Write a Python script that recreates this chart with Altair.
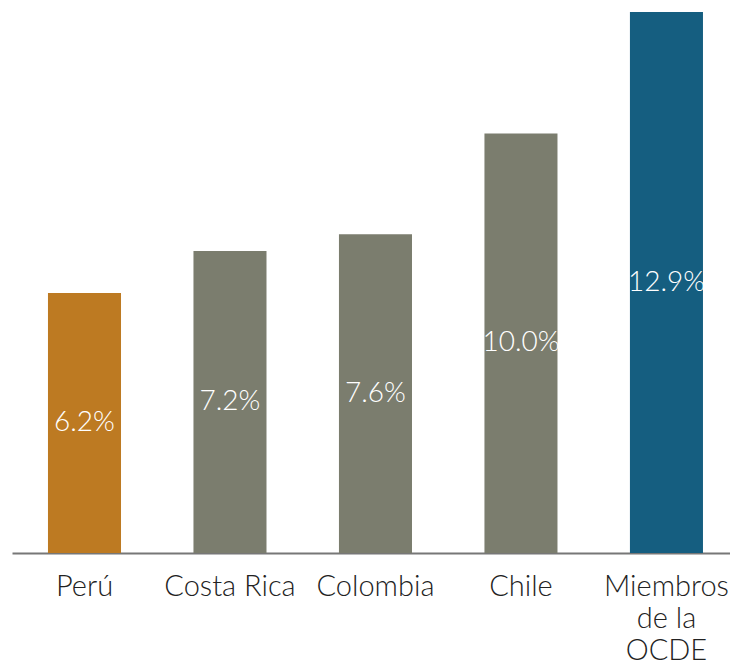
import altair as alt
import pandas as pd

categories = ["Perú", "Costa Rica", "Colombia", "Chile", "Miembros de la OCDE"]
values = [6.2, 7.2, 7.6, 10.0, 12.9]
labels = ["6.2%", "7.2%", "7.6%", "10.0%", "12.9%"]
colors = ["#BD7A22", "#7B7D6E", "#7B7D6E", "#7B7D6E", "#155E80"]

df = pd.DataFrame({"cat": categories, "val": values, "lab": labels, "col": colors})
df["half"] = df["val"] / 2

x = alt.X("cat:N", sort=categories, title=None,
          scale=alt.Scale(paddingInner=0.498, paddingOuter=0.2165, align=0.571),
          axis=alt.Axis(labelAngle=0, ticks=False, domainColor="#777777", domainWidth=2,
                        labelFont="Lato", labelFontSize=29, labelFontWeight=300,
                        labelColor="#222222", labelPadding=19, labelLineHeight=32,
                        labelBaseline="top",
                        labelExpr="datum.label == 'Miembros de la OCDE' ? ['Miembros','de la','OCDE'] : datum.label"))

bars = alt.Chart(df).mark_bar().encode(
    x=x,
    y=alt.Y("val:Q", scale=alt.Scale(domain=[0, 12.9], nice=False), axis=None),
    color=alt.Color("col:N", scale=None),
)

text = alt.Chart(df).mark_text(color="white", font="Lato", fontSize=28, fontWeight=300,
                               baseline="middle").encode(
    x=alt.X("cat:N", sort=categories),
    y=alt.Y("half:Q"),
    text="lab:N",
)

chart = (bars + text).properties(
    width=718, height=541,
    autosize=alt.AutoSizeParams(type="none"),
    padding={"left": 4, "top": 4, "right": 0, "bottom": 111},
).configure_view(stroke=None)

chart.save("out.html", embed_options={"renderer": "svg", "actions": False})
